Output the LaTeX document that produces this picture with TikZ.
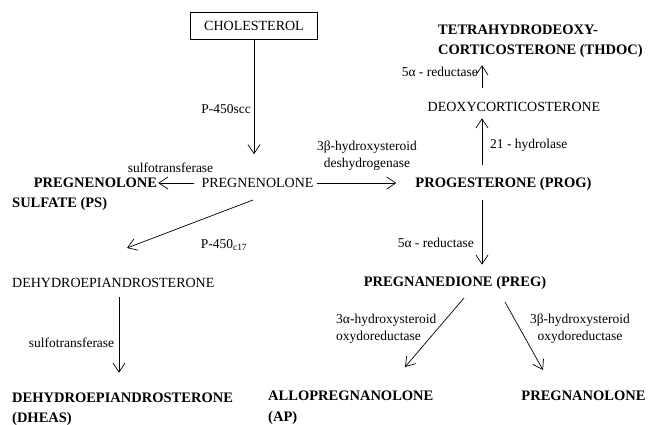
\documentclass[tikz,border=0pt]{standalone}
\usepackage{fontspec}
\setmainfont{Liberation Serif}
\usetikzlibrary{arrows.meta}

\begin{document}
\begin{tikzpicture}[x=1pt,y=-1pt,
  cmp/.style={inner sep=0pt,text height=9.3pt,text depth=0pt,font=\fontsize{14}{16}\selectfont},
  bcmp/.style={cmp,font=\fontsize{14.5}{16}\selectfont\bfseries},
  enz/.style={inner sep=0pt,font=\fontsize{13.5}{17}\selectfont},
  arr/.style={draw,line width=0.7pt,-{Straight Barb[length=9pt,width=12pt]}}
]
\useasboundingbox (0,0) rectangle (650,425);
\coordinate (col) at (482,0);

% compounds
\node[cmp,draw,minimum width=127pt,minimum height=27pt] (chol) at (254,25.5) {CHOLESTEROL};
\node[cmp] (preg) at (257.5,183) {PREGNENOLONE};
\node[bcmp] (ps) at (95.5,183) {PREGNENOLONE};
\node[bcmp,anchor=west] (ps2) at (12,203) {SULFATE (PS)};
\node[bcmp] (prog) at (503.5,183) {PROGESTERONE (PROG)};
\node[cmp] (deoxy) at (514,107) {DEOXYCORTICOSTERONE};
\node[bcmp,anchor=west] (thdoc) at (438,30) {TETRAHYDRODEOXY-};
\node[bcmp,anchor=west] (thdoc2) at (438,50) {CORTICOSTERONE (THDOC)};
\node[bcmp] (pregd) at (455,282) {PREGNANEDIONE (PREG)};
\node[bcmp,anchor=west] (ap) at (268,396) {ALLOPREGNANOLONE};
\node[bcmp,anchor=west] (ap2) at (268,417) {(AP)};
\node[bcmp] (pregnan) at (583.5,396) {PREGNANOLONE};
\node[cmp,anchor=west] (dhea) at (12,283) {DEHYDROEPIANDROSTERONE};
\node[bcmp,anchor=west] (dheas) at (12,398) {DEHYDROEPIANDROSTERONE};
\node[bcmp,anchor=west] (dheas2) at (12,418) {(DHEAS)};

% enzymes
\node[enz,anchor=east] (lscc) at (251,109) {P-450scc};
\node[enz] (lsulfa) at (170.5,168) {sulfotransferase};
\node[enz,align=center] (l3bd) at (367,156) {3β-hydroxysteroid\\deshydrogenase};
\node[enz,anchor=west] (l21) at (490,145) {21 - hydrolase};
\node[enz,anchor=east] (l5a) at (478,72) {5α - reductase};
\node[enz,anchor=east] (l5b) at (474,243) {5α - reductase};
\node[enz,align=left,anchor=west] (l3ao) at (336,329) {3α-hydroxysteroid\\oxydoreductase};
\node[enz,align=center] (l3bo) at (580,329) {3β-hydroxysteroid\\oxydoreductase};
\node[enz] (lc17) at (224,245) {P-450\textsubscript{c17}};
\node[enz] (lsulfb) at (71.5,343) {sulfotransferase};

\draw[arr,shorten >=24pt] (chol.south) -- (chol.south |- preg.north);
\draw[arr,shorten <=7pt,shorten >=1pt] (preg.west) -- (ps.east);
\draw[arr,shorten <=3pt,shorten >=19pt] (preg.east) -- (prog.west);
\draw[arr,shorten <=13pt,shorten >=6.5pt] (prog.north -| col) -- (deoxy.south -| col);
\draw[arr,shorten <=14.5pt,shorten >=10.5pt] (deoxy.north -| col) -- (thdoc2.south -| col);
\draw[arr,shorten <=12.5pt,shorten >=12.5pt] (prog.south -| col) -- (pregd.north -| col);
\draw[arr] ([shift={(9,16)}]pregd.center) -- ([shift={(137,-29)}]ap.west);
\draw[arr] ([shift={(50,20)}]pregd.center) -- ([shift={(-40.5,-26)}]pregnan.center);
\draw[arr] ([shift={(-4.5,17)}]preg.center) -- ([shift={(115,-35)}]dhea.west);
\draw[arr,shorten <=9.5pt,shorten >=20.5pt] ([xshift=107pt]dhea.south west) -- ([xshift=107pt]dhea.south west |- dheas.north);
\end{tikzpicture}
\end{document}
